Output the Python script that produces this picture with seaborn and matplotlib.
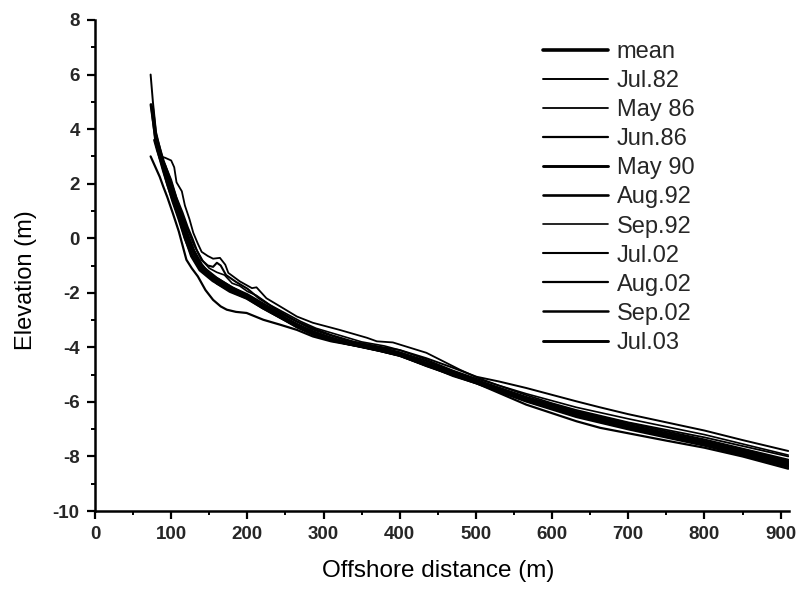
import numpy as np
import pandas as pd
import matplotlib
matplotlib.use("Agg")
import matplotlib.pyplot as plt
from matplotlib.ticker import MultipleLocator
import seaborn as sns

# ---- data (offshore distance m, elevation m) ----
mean_x = [75, 80, 85, 90, 96, 104, 111, 119, 127, 138, 155, 177, 199, 220, 243, 265, 286, 310, 330, 350, 374, 400, 435, 470, 501, 530, 566, 600, 632, 663, 700, 750, 800, 850, 910]
mean_y = [4.8, 3.6, 3.0, 2.5, 1.95, 1.3, 0.75, 0.0, -0.65, -1.16, -1.55, -1.9, -2.13, -2.5, -2.87, -3.2, -3.47, -3.68, -3.84, -3.95, -4.09, -4.25, -4.6, -4.95, -5.25, -5.55, -5.88, -6.18, -6.45, -6.62, -6.88, -7.18, -7.47, -7.8, -8.2]

jul82_x = [73, 76, 80, 90, 100, 111, 120, 130, 140, 160, 180, 200, 243, 286, 330, 374, 400, 435, 470, 501, 530, 566, 632, 663, 700, 750, 800, 850, 910]
jul82_y = [6.0, 5.0, 3.9, 2.75, 1.8, 0.9, 0.1, -0.6, -1.0, -1.45, -1.8, -2.05, -2.75, -3.35, -3.75, -3.98, -4.1, -4.4, -4.75, -5.08, -5.25, -5.49, -5.98, -6.2, -6.45, -6.75, -7.05, -7.4, -7.8]

may86_x = [86, 92, 100, 104, 107, 114, 118, 124, 129, 135, 140, 148, 155, 164, 171, 175, 190, 206, 212, 225, 243, 265, 286, 321, 357, 370, 391, 435, 479, 501, 530, 566, 600, 632, 700, 800, 910]
may86_y = [3.0, 2.95, 2.85, 2.6, 2.05, 1.72, 1.2, 0.7, 0.2, -0.2, -0.5, -0.65, -0.75, -0.72, -0.97, -1.27, -1.58, -1.83, -1.8, -2.2, -2.5, -2.87, -3.1, -3.36, -3.65, -3.78, -3.82, -4.2, -4.82, -5.1, -5.4, -5.75, -6.05, -6.3, -6.75, -7.3, -8.0]

jun86_x = [73, 77, 81, 85, 89.5, 95, 102, 110, 120, 127, 135, 145, 155, 165, 173, 185, 199, 221, 243, 265, 286, 310, 350, 400, 435, 470, 501, 566, 632, 663, 700, 750, 800, 850, 910]
jun86_y = [3.0, 2.75, 2.5, 2.25, 1.9, 1.5, 0.93, 0.25, -0.79, -1.1, -1.4, -1.9, -2.26, -2.5, -2.62, -2.7, -2.74, -2.99, -3.17, -3.36, -3.6, -3.78, -3.98, -4.3, -4.65, -5.05, -5.32, -6.1, -6.71, -6.95, -7.15, -7.42, -7.68, -8.0, -8.45]

may90_x = [73.5, 77, 81, 86, 92, 98, 105, 112, 120, 128, 136, 145, 160, 177, 199, 220, 243, 265, 286, 310, 330, 350, 374, 400, 435, 470, 501, 530, 566, 600, 632, 663, 700, 750, 800, 850, 910]
may90_y = [4.9, 4.2, 3.4, 3.0, 2.6, 2.1, 1.5, 0.9, 0.25, -0.4, -0.9, -1.25, -1.65, -1.95, -2.2, -2.55, -2.9, -3.22, -3.5, -3.72, -3.86, -3.98, -4.12, -4.3, -4.65, -4.98, -5.25, -5.58, -5.92, -6.22, -6.48, -6.68, -6.92, -7.25, -7.55, -7.9, -8.3]

aug92_x = [78, 82, 88, 95, 102, 110, 118, 126, 134, 142, 155, 165, 180, 199, 220, 243, 265, 286, 310, 330, 374, 400, 435, 470, 501, 566, 632, 700, 800, 910]
aug92_y = [3.6, 3.2, 2.7, 2.0, 1.35, 0.7, 0.0, -0.55, -0.95, -1.2, -1.45, -1.6, -1.85, -2.1, -2.45, -2.82, -3.15, -3.42, -3.65, -3.82, -4.05, -4.22, -4.58, -4.92, -5.22, -5.85, -6.4, -6.85, -7.45, -8.2]

sep92_x = [85, 92, 100, 107, 115, 122, 128, 134, 142, 150, 160, 170, 180, 190, 200, 212, 230, 250, 270, 290, 320, 350, 380, 400, 435, 470, 501, 566, 632, 700, 800, 910]
sep92_y = [3.0, 2.7, 2.15, 1.5, 0.95, 0.4, 0.0, -0.45, -0.85, -1.1, -1.25, -1.35, -1.65, -1.75, -1.95, -2.1, -2.45, -2.75, -3.05, -3.3, -3.55, -3.8, -3.95, -4.1, -4.45, -4.85, -5.15, -5.7, -6.2, -6.62, -7.2, -7.95]

jul02_x = [80, 90, 100, 110, 120, 130, 140, 148, 155, 160, 165, 172, 185, 200, 215, 243, 265, 286, 310, 340, 374, 400, 435, 470, 501, 566, 632, 700, 800, 910]
jul02_y = [3.8, 2.85, 2.05, 1.2, 0.45, -0.25, -0.8, -1.0, -1.05, -0.9, -1.0, -1.35, -1.6, -1.85, -2.2, -2.7, -3.05, -3.3, -3.55, -3.8, -4.0, -4.18, -4.5, -4.88, -5.2, -5.82, -6.35, -6.78, -7.38, -8.12]

aug02_x = [82, 92, 100, 110, 120, 130, 140, 150, 165, 180, 200, 220, 243, 265, 286, 310, 330, 374, 400, 435, 470, 501, 566, 632, 700, 800, 910]
aug02_y = [3.5, 2.5, 1.8, 1.0, 0.2, -0.45, -0.95, -1.3, -1.55, -1.8, -2.1, -2.45, -2.85, -3.2, -3.45, -3.7, -3.85, -4.08, -4.26, -4.62, -4.95, -5.25, -5.9, -6.45, -6.9, -7.5, -8.25]

sep02_x = [80, 90, 100, 110, 120, 130, 140, 150, 165, 180, 200, 220, 243, 265, 286, 310, 340, 374, 400, 435, 470, 501, 566, 632, 700, 800, 910]
sep02_y = [3.6, 2.6, 1.75, 0.95, 0.15, -0.5, -1.0, -1.35, -1.65, -1.9, -2.15, -2.5, -2.88, -3.25, -3.5, -3.75, -3.92, -4.12, -4.3, -4.68, -5.02, -5.32, -5.98, -6.55, -7.0, -7.6, -8.38]

jul03_x = [80, 90, 100, 110, 120, 130, 140, 150, 165, 180, 200, 220, 243, 265, 286, 310, 340, 374, 400, 435, 470, 501, 566, 632, 700, 800, 910]
jul03_y = [3.5, 2.6, 1.8, 1.0, 0.2, -0.5, -1.05, -1.4, -1.7, -1.95, -2.2, -2.55, -2.9, -3.25, -3.52, -3.72, -3.9, -4.1, -4.28, -4.66, -5.0, -5.3, -5.95, -6.5, -6.95, -7.55, -8.35]

series_labels = ["mean", "Jul.82", "May 86", "Jun.86", "May 90", "Aug.92",
                 "Sep.92", "Jul.02", "Aug.02", "Sep.02", "Jul.03"]
series_x = [mean_x, jul82_x, may86_x, jun86_x, may90_x, aug92_x,
            sep92_x, jul02_x, aug02_x, sep02_x, jul03_x]
series_y = [mean_y, jul82_y, may86_y, jun86_y, may90_y, aug92_y,
            sep92_y, jul02_y, aug02_y, sep02_y, jul03_y]
line_widths = [2.6, 1.4, 1.3, 1.6, 2.1, 1.9, 1.2, 1.5, 1.6, 1.8, 2.1]

x_ticks = [0, 100, 200, 300, 400, 500, 600, 700, 800, 900]
y_ticks = [-10, -8, -6, -4, -2, 0, 2, 4, 6, 8]

# ---- figure ----
sns.set_theme(style="ticks")
plt.rcParams["font.family"] = ["Liberation Sans", "DejaVu Sans"]
plt.rcParams["axes.unicode_minus"] = False

fig = plt.figure(figsize=(8.0, 5.91), dpi=100)
ax = fig.add_axes([95 / 800, 1 - 511 / 591, (789 - 95) / 800, (511 - 20) / 591])

frames = []
for lab, xs, ys in zip(series_labels, series_x, series_y):
    frames.append(pd.DataFrame({"x": xs, "y": ys, "survey": lab}))
df = pd.concat(frames, ignore_index=True)

for lab, lw in zip(series_labels, line_widths):
    sub = df[df["survey"] == lab]
    sns.lineplot(data=sub, x="x", y="y", ax=ax, color="black", lw=lw,
                 sort=False, estimator=None, label=lab)

ax.set_xlim(0, 911)
ax.set_ylim(-10, 8)
ax.set_xticks(x_ticks)
ax.set_yticks(y_ticks)
ax.xaxis.set_minor_locator(MultipleLocator(50))
ax.yaxis.set_minor_locator(MultipleLocator(1))
ax.tick_params(which="major", direction="out", length=6, width=1.6,
               labelsize=13.5, color="black", pad=5)
ax.tick_params(which="minor", direction="out", length=3, width=1.4, color="black")
for t in ax.get_xticklabels() + ax.get_yticklabels():
    t.set_fontweight("bold")

sns.despine(ax=ax)
for s in ["left", "bottom"]:
    ax.spines[s].set_linewidth(1.8)
    ax.spines[s].set_color("black")

ax.set_xlabel("Offshore distance (m)", fontsize=17.5, color="black")
ax.set_ylabel("Elevation (m)", fontsize=17, color="black")
ax.xaxis.set_label_coords(0.494, -0.1)
ax.yaxis.set_label_coords(-0.084, 0.47)

leg = ax.legend(loc="upper left", bbox_to_anchor=(543 / 800, 1 - 41 / 591),
                bbox_transform=fig.transFigure, frameon=False, fontsize=17,
                handlelength=2.75, handletextpad=0.38, labelspacing=0.3,
                borderpad=0, borderaxespad=0)

fig.savefig("out.png", dpi=100)
